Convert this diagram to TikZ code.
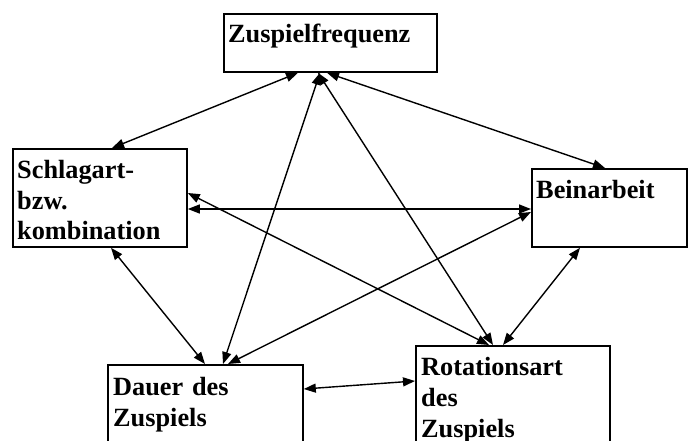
\documentclass[tikz,border=0pt]{standalone}
\usepackage{fontspec}
\setmainfont{Liberation Serif}
\usetikzlibrary{arrows.meta}
\tikzset{>={Triangle[length=12pt,width=9pt]}}
\tikzset{
  kasten/.style={draw, line width=1.8pt, anchor=north west, inner sep=0pt},
  schrift/.style={anchor=base west, inner sep=0pt, align=left, text width=#1,
    font=\fontsize{26.3}{31}\selectfont\bfseries},
  pfeil/.style={<->, line width=1.4pt}
}

\begin{document}
\begin{tikzpicture}[x=1pt,y=-1pt]
\useasboundingbox (0,0) rectangle (693,441);
\clip (0,0) rectangle (693,441);
% Kaesten
\node[kasten, minimum width=213pt, minimum height=58pt] (freq) at (223,13) {};
\node[kasten, minimum width=174pt, minimum height=98pt] (schlag) at (12,148) {};
\node[kasten, minimum width=155pt, minimum height=78pt] (bein) at (531,168) {};
\node[kasten, minimum width=195pt, minimum height=100pt] (dauer) at (107,364) {};
\node[kasten, minimum width=194pt, minimum height=120pt] (rot) at (415,345) {};
% Texte
\node[schrift=200pt] (freqtext) at ([shift={(5,30)}]freq.north west) {Zuspielfrequenz};
\node[schrift=165pt] (schlagtext) at ([shift={(5,30)}]schlag.north west) {Schlagart-\\bzw.\\kombination};
\node[schrift=145pt] (beintext) at ([shift={(5,30)}]bein.north west) {Beinarbeit};
\node[schrift=185pt] (dauertext) at ([shift={(6,31)}]dauer.north west) {Dauer des\\Zuspiels};
\node[schrift=185pt] (rottext) at ([shift={(6,30)}]rot.north west) {Rotationsart\\des\\Zuspiels};
% Pfeile
\draw[pfeil] ([xshift=75pt]freq.south west) -- ([xshift=100pt]schlag.north west);
\draw[pfeil] ([xshift=97pt]freq.south west) -- ([xshift=116pt]dauer.north west);
\draw[pfeil] ([xshift=95pt]freq.south west) -- ([xshift=78pt]rot.north west);
\draw[pfeil] ([xshift=104pt]freq.south west) -- ([xshift=74pt]bein.north west);
\draw[pfeil] ([yshift=-61pt]schlag.north east) -- ([yshift=-41pt]bein.north west);
\draw[pfeil] ([yshift=-45pt]schlag.north east) -- ([xshift=74pt]rot.north west);
\draw[pfeil] ([xshift=99pt]schlag.south west) -- ([xshift=98pt]dauer.north west);
\draw[pfeil] ([yshift=-44pt]bein.north west) -- ([xshift=121pt]dauer.north west);
\draw[pfeil] ([xshift=49pt]bein.south west) -- ([xshift=88pt]rot.north west);
\draw[pfeil] ([yshift=-25pt]dauer.north east) -- ([yshift=-36pt]rot.north west);
\end{tikzpicture}
\end{document}
